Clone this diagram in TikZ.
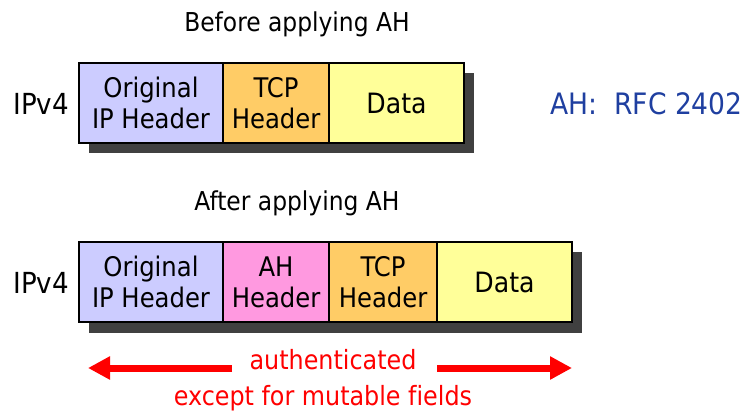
\documentclass[tikz,border=0pt]{standalone}
\usepackage{fontspec}
\setmainfont[Ligatures=NoCommon]{DejaVu Sans Condensed}
\usetikzlibrary{arrows.meta}
\definecolor{ipc}{HTML}{CCCCFF}
\definecolor{tcpc}{HTML}{FFCC66}
\definecolor{datac}{HTML}{FFFF99}
\definecolor{ahc}{HTML}{FF99E0}
\definecolor{shadowc}{HTML}{404040}
\definecolor{rfcblue}{HTML}{1F3FA0}
\definecolor{authred}{HTML}{FF0000}
\tikzset{
  field/.style={draw=black, line width=1.6pt, anchor=north west, inner sep=0pt, outer sep=0pt,
    minimum height=80pt, align=center, font=\fontsize{27}{31}\selectfont},
  title/.style={font=\fontsize{26}{30}\selectfont},
  rowlabel/.style={font=\fontsize{29}{32}\selectfont, anchor=west},
  shadowbox/.style={fill=shadowc},
  authtext/.style={text=authred, font=\fontsize{26.5}{30}\selectfont},
  authline/.style={draw=authred, line width=7pt, -{Triangle[length=22pt,width=22pt]}}
}
\begin{document}
\begin{tikzpicture}[x=1pt,y=-1pt]
\useasboundingbox (0,0) rectangle (745,413);

% drop shadows, drawn first so the fields cover them
\fill[shadowbox] (89,73) rectangle (474,153);
\fill[shadowbox] (89,252) rectangle (582,333);

% before applying AH
\node[title] (t1) at (297,24) {Before applying AH};
\node[field, fill=ipc,   minimum width=144pt] (ip1)   at (79,63)  {Original\\IP Header};
\node[field, fill=tcpc,  minimum width=106pt] (tcp1)  at (ip1.north east) {TCP\\Header};
\node[field, fill=datac, minimum width=135pt] (data1) at (tcp1.north east) {\fontsize{28}{31}\selectfont Data};
\node[rowlabel] (l1) at (10,104) {IPv4};
\node[anchor=west, text=rfcblue, font=\fontsize{29.5}{32}\selectfont] (rfc) at (547,104) {AH:\ \ RFC 2402};

% after applying AH
\node[title] (t2) at (297,203) {After applying AH};
\node[field, fill=ipc,   minimum width=144pt] (ip2)   at (79,242) {Original\\IP Header};
\node[field, fill=ahc,   minimum width=106pt] (ah2)   at (ip2.north east) {AH\\Header};
\node[field, fill=tcpc,  minimum width=108pt] (tcp2)  at (ah2.north east) {TCP\\Header};
\node[field, fill=datac, minimum width=135pt] (data2) at (tcp2.north east) {\fontsize{28}{31}\selectfont Data};
\node[rowlabel] (l2) at (10,283) {IPv4};

% authentication coverage
\node[authtext] (auth) at (333,360) {authenticated};
\node[authtext] (mut)  at (323,398) {except for mutable fields};
\coordinate (lt) at (232,368);
\coordinate (lh) at (88,368);
\coordinate (rt) at (437,368);
\coordinate (rh) at (572,368);
\draw[authline] (lt) -- (lh);
\draw[authline] (rt) -- (rh);
\end{tikzpicture}
\end{document}
